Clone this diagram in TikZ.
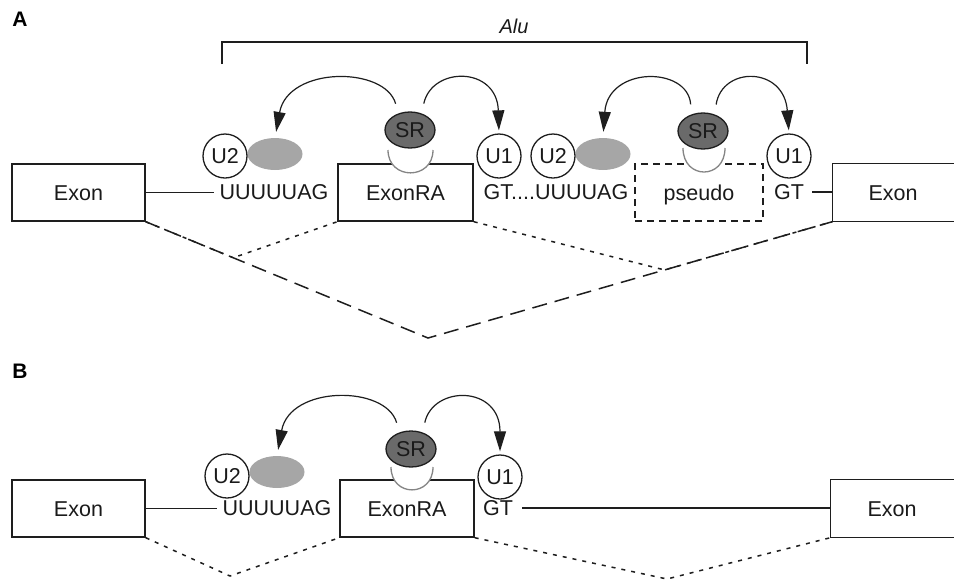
\documentclass[tikz,border=0pt]{standalone}
\usepackage{fontspec}
\setmainfont{Liberation Sans}
\usetikzlibrary{arrows.meta,shapes.geometric,calc}
\definecolor{ln}{HTML}{1E1E1E}
\definecolor{txt}{HTML}{1A1A1A}
\definecolor{srfill}{HTML}{6A6A6A}
\definecolor{gfill}{HTML}{A6A6A6}
\definecolor{cupc}{HTML}{858585}
\begin{document}
\begin{tikzpicture}[x=1pt,y=-1pt,
  every node/.style={font=\fontsize{21.5}{25}\selectfont, text=txt},
  box/.style={draw=ln, line width=1.4pt, minimum height=57pt, inner sep=0pt, text height=15pt, text depth=0pt},
  boxline/.style={draw=ln, line width=1.4pt},
  pseudobox/.style={box, dash pattern=on 7pt off 5pt},
  seq/.style={inner xsep=5pt, inner ysep=0pt, text height=15pt, text depth=0pt},
  snrna/.style={circle, draw=ln, fill=white, line width=1.3pt, minimum size=44pt, inner sep=0pt, text height=15pt, text depth=0pt},
  srnode/.style={ellipse, draw=ln, fill=srfill, line width=1.3pt, minimum width=50pt, minimum height=36pt, inner sep=0pt, text height=15pt, text depth=0pt},
  gel/.style={ellipse, fill=gfill, minimum width=55pt, minimum height=32pt, inner sep=0pt},
  cup/.style={draw=cupc, fill=white, line width=1.3pt},
  conn/.style={draw=ln, line width=1.5pt},
  arr/.style={draw=ln, line width=1.2pt, -{Triangle[length=20pt,width=12pt]}, shorten <=10pt, shorten >=3pt},
  longdash/.style={draw=ln, line width=1.5pt, dash pattern=on 15pt off 8pt},
  dotline/.style={draw=ln, line width=1.5pt, dash pattern=on 4pt off 6pt},
  lab/.style={font=\fontsize{21}{25}\selectfont\bfseries, text=black}
]
\useasboundingbox (0,0) rectangle (954,582);

% ---------------- Panel A ----------------
\node[lab] (labA) at (20,19.5) {A};
\node[font=\fontsize{20}{24}\selectfont\itshape, text height=15pt, text depth=0pt, inner sep=0pt] (alu) at (514,26) {Alu};
\coordinate (brL) at (222,64);
\coordinate (brR) at (807,64);
\draw[conn] (brL) -- (222,42) -- (807,42) -- (brR);

\node[box, minimum width=133pt] (lexA) at (78.5,192.5) {Exon};
\node[box, minimum width=135pt] (exRA) at (405.5,192.5) {ExonRA};
\node[pseudobox, minimum width=128pt] (pseA) at (699,192.5) {pseudo};
\node[box, draw=none, minimum width=120pt] (rexA) at (893,192.5) {Exon};
\draw[boxline] (rexA.north east) -- (rexA.north west) -- (rexA.south west) -- (rexA.south east);

\node[seq] (uA) at (274,192) {UUUUUAG};
\node[seq] (gtA) at (556,192) {GT....UUUUAG};
\node[seq] (gt2A) at (789,192) {GT};
\draw[conn] (lexA.east) -- (lexA.east -| uA.west);
\draw[conn] ([xshift=3pt]gt2A.east) -- (gt2A.east -| rexA.west);

% cups
\draw[cup] (388,150) .. controls (388,180.5) and (433,180.5) .. (433,150);
\draw[cup] (683,148) .. controls (683,180) and (725,180) .. (725,148);

\node[gel] (gelA1) at (275,154) {};
\node[gel] (gelA2) at (603,154) {};
\node[snrna] (u2A1) at (225,156) {U2};
\node[snrna] (u1A1) at (499,156) {U1};
\node[snrna] (u2A2) at (553,156) {U2};
\node[snrna] (u1A2) at (789,156) {U1};
\node[srnode] (srA1) at (410,130) {SR};
\node[srnode] (srA2) at (703,131) {SR};

\draw[arr, shorten >=6pt] (srA1.125) .. controls (385,66) and (288,66) .. (gelA1.north);
\draw[arr] (srA1.55) .. controls (432,66) and (497,66) .. (u1A1.north);
\draw[arr, shorten >=6pt] (srA2.125) .. controls (688,66) and (608,66) .. (gelA2.north);
\draw[arr] (srA2.55) .. controls (722,66) and (784,66) .. (u1A2.north);

% splicing lines A
\coordinate (vA) at (428,338);
\draw[longdash] (lexA.south east) -- (vA) -- (rexA.south west);
\draw[dotline] (lexA.south east) -- ($(lexA.south east)!0.31!(vA)$) -- (exRA.south west);
\draw[dotline] (exRA.south east) -- ($(rexA.south west)!0.415!(vA)$) -- (rexA.south west);

% ---------------- Panel B ----------------
\node[lab] (labB) at (20,371) {B};

\node[box, minimum width=133pt] (lexB) at (78.5,508.5) {Exon};
\node[box, minimum width=134pt] (exRB) at (407,508.5) {ExonRA};
\node[box, draw=none, minimum width=122pt] (rexB) at (892,508.5) {Exon};
\draw[boxline] (rexB.north east) -- (rexB.north west) -- (rexB.south west) -- (rexB.south east);

\node[seq] (uB) at (277,508) {UUUUUAG};
\node[seq] (gtB) at (498,508) {GT};
\draw[conn] (lexB.east) -- (lexB.east -| uB.west);
\draw[conn] ([xshift=4pt]gtB.east) -- (gtB.east -| rexB.west);

\draw[cup] (391,467) .. controls (391,497.5) and (433,497.5) .. (433,467);

\node[gel] (gelB) at (277,472) {};
\node[snrna] (u2B) at (227,476) {U2};
\node[snrna] (u1B) at (500,477) {U1};
\node[srnode] (srB) at (411,449) {SR};

\draw[arr, shorten >=6pt] (srB.125) .. controls (386,385) and (290,385) .. (gelB.north);
\draw[arr] (srB.55) .. controls (433,385) and (500,385) .. (u1B.north);

\coordinate (vB1) at (230,576);
\coordinate (vB2) at (667,579);
\draw[dotline] (lexB.south east) -- (vB1) -- (exRB.south west);
\draw[dotline] (exRB.south east) -- (vB2) -- (rexB.south west);
\end{tikzpicture}
\end{document}
